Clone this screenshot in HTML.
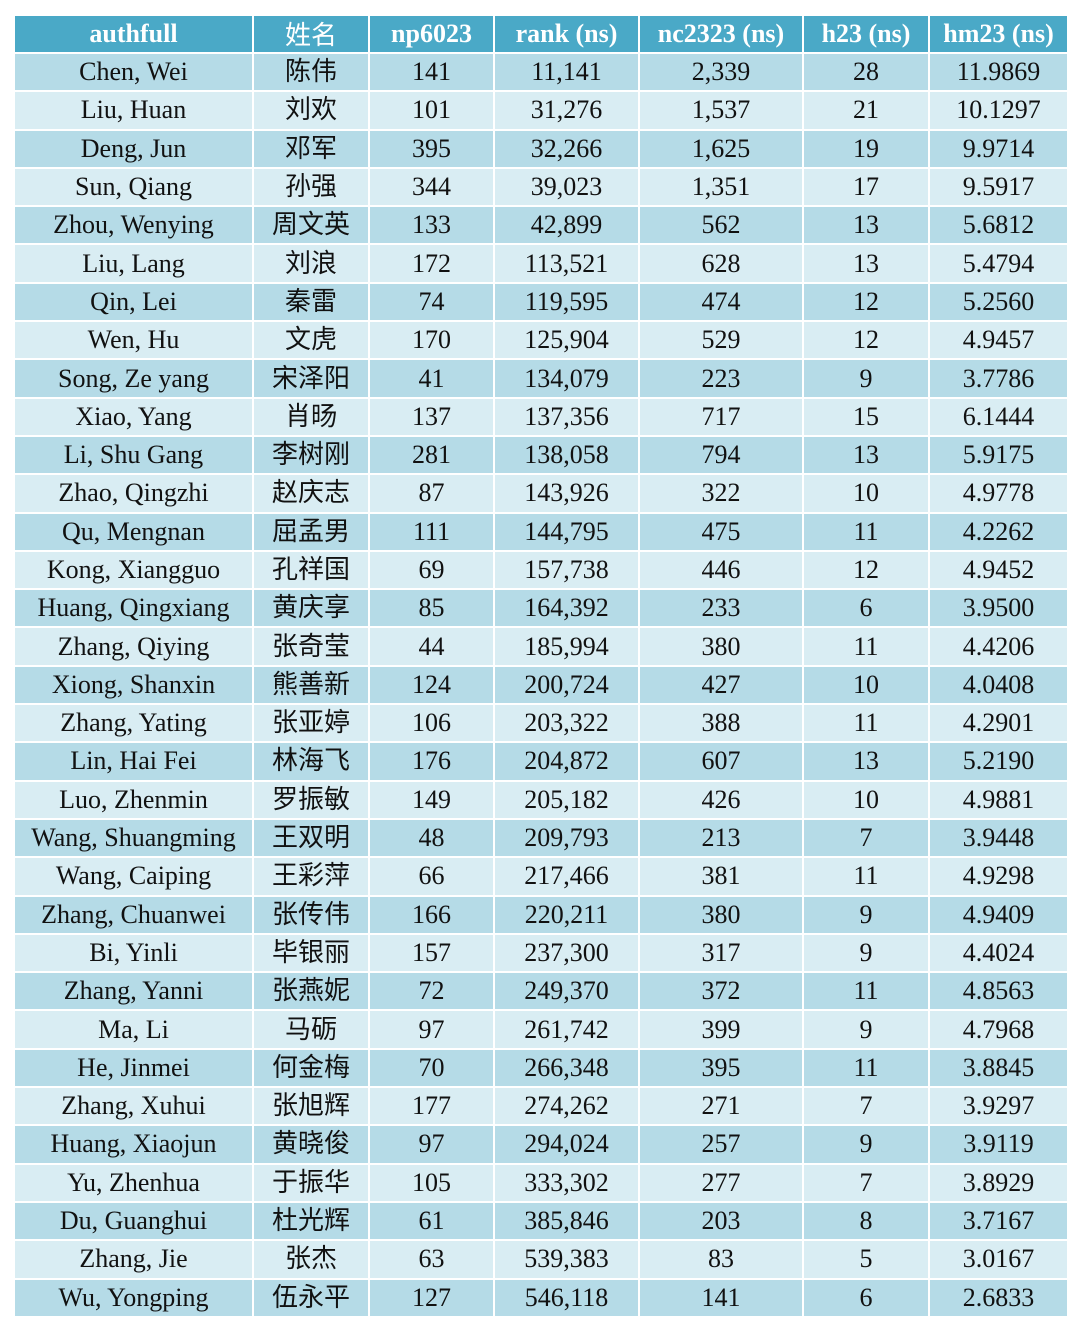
<!DOCTYPE html>
<html><head><meta charset="utf-8"><style>
html,body{margin:0;padding:0;background:#fff;width:1080px;height:1331px;overflow:hidden}
table{position:absolute;left:13px;top:14px;width:1054px;border-collapse:collapse;table-layout:fixed;font-family:"Liberation Serif","Noto Serif CJK SC",serif;font-size:26px;color:#111}
td,th{border:2px solid #fff;text-align:center;padding:0;height:36.3px;line-height:30px;white-space:nowrap;overflow:hidden}
th{background:#4aa9c7;color:#fff;font-weight:bold;height:36px;font-size:26px}
th.cn{font-weight:normal;font-family:"Noto Sans CJK SC",sans-serif}
tr:nth-child(even) td{background:#b5dbe7}
tr:nth-child(odd) td{background:#d9edf3}
td:nth-child(2){font-family:"Liberation Serif","Noto Sans CJK SC",sans-serif}
</style></head><body>
<table>
<colgroup><col style="width:239px"><col style="width:116px"><col style="width:125px"><col style="width:145px"><col style="width:164px"><col style="width:126px"><col style="width:139px"></colgroup>
<tr><th>authfull</th><th class="cn">姓名</th><th>np6023</th><th>rank (ns)</th><th>nc2323 (ns)</th><th>h23 (ns)</th><th>hm23 (ns)</th></tr>
<tr><td>Chen, Wei</td><td>陈伟</td><td>141</td><td>11,141</td><td>2,339</td><td>28</td><td>11.9869</td></tr>
<tr><td>Liu, Huan</td><td>刘欢</td><td>101</td><td>31,276</td><td>1,537</td><td>21</td><td>10.1297</td></tr>
<tr><td>Deng, Jun</td><td>邓军</td><td>395</td><td>32,266</td><td>1,625</td><td>19</td><td>9.9714</td></tr>
<tr><td>Sun, Qiang</td><td>孙强</td><td>344</td><td>39,023</td><td>1,351</td><td>17</td><td>9.5917</td></tr>
<tr><td>Zhou, Wenying</td><td>周文英</td><td>133</td><td>42,899</td><td>562</td><td>13</td><td>5.6812</td></tr>
<tr><td>Liu, Lang</td><td>刘浪</td><td>172</td><td>113,521</td><td>628</td><td>13</td><td>5.4794</td></tr>
<tr><td>Qin, Lei</td><td>秦雷</td><td>74</td><td>119,595</td><td>474</td><td>12</td><td>5.2560</td></tr>
<tr><td>Wen, Hu</td><td>文虎</td><td>170</td><td>125,904</td><td>529</td><td>12</td><td>4.9457</td></tr>
<tr><td>Song, Ze yang</td><td>宋泽阳</td><td>41</td><td>134,079</td><td>223</td><td>9</td><td>3.7786</td></tr>
<tr><td>Xiao, Yang</td><td>肖旸</td><td>137</td><td>137,356</td><td>717</td><td>15</td><td>6.1444</td></tr>
<tr><td>Li, Shu Gang</td><td>李树刚</td><td>281</td><td>138,058</td><td>794</td><td>13</td><td>5.9175</td></tr>
<tr><td>Zhao, Qingzhi</td><td>赵庆志</td><td>87</td><td>143,926</td><td>322</td><td>10</td><td>4.9778</td></tr>
<tr><td>Qu, Mengnan</td><td>屈孟男</td><td>111</td><td>144,795</td><td>475</td><td>11</td><td>4.2262</td></tr>
<tr><td>Kong, Xiangguo</td><td>孔祥国</td><td>69</td><td>157,738</td><td>446</td><td>12</td><td>4.9452</td></tr>
<tr><td>Huang, Qingxiang</td><td>黄庆享</td><td>85</td><td>164,392</td><td>233</td><td>6</td><td>3.9500</td></tr>
<tr><td>Zhang, Qiying</td><td>张奇莹</td><td>44</td><td>185,994</td><td>380</td><td>11</td><td>4.4206</td></tr>
<tr><td>Xiong, Shanxin</td><td>熊善新</td><td>124</td><td>200,724</td><td>427</td><td>10</td><td>4.0408</td></tr>
<tr><td>Zhang, Yating</td><td>张亚婷</td><td>106</td><td>203,322</td><td>388</td><td>11</td><td>4.2901</td></tr>
<tr><td>Lin, Hai Fei</td><td>林海飞</td><td>176</td><td>204,872</td><td>607</td><td>13</td><td>5.2190</td></tr>
<tr><td>Luo, Zhenmin</td><td>罗振敏</td><td>149</td><td>205,182</td><td>426</td><td>10</td><td>4.9881</td></tr>
<tr><td>Wang, Shuangming</td><td>王双明</td><td>48</td><td>209,793</td><td>213</td><td>7</td><td>3.9448</td></tr>
<tr><td>Wang, Caiping</td><td>王彩萍</td><td>66</td><td>217,466</td><td>381</td><td>11</td><td>4.9298</td></tr>
<tr><td>Zhang, Chuanwei</td><td>张传伟</td><td>166</td><td>220,211</td><td>380</td><td>9</td><td>4.9409</td></tr>
<tr><td>Bi, Yinli</td><td>毕银丽</td><td>157</td><td>237,300</td><td>317</td><td>9</td><td>4.4024</td></tr>
<tr><td>Zhang, Yanni</td><td>张燕妮</td><td>72</td><td>249,370</td><td>372</td><td>11</td><td>4.8563</td></tr>
<tr><td>Ma, Li</td><td>马砺</td><td>97</td><td>261,742</td><td>399</td><td>9</td><td>4.7968</td></tr>
<tr><td>He, Jinmei</td><td>何金梅</td><td>70</td><td>266,348</td><td>395</td><td>11</td><td>3.8845</td></tr>
<tr><td>Zhang, Xuhui</td><td>张旭辉</td><td>177</td><td>274,262</td><td>271</td><td>7</td><td>3.9297</td></tr>
<tr><td>Huang, Xiaojun</td><td>黄晓俊</td><td>97</td><td>294,024</td><td>257</td><td>9</td><td>3.9119</td></tr>
<tr><td>Yu, Zhenhua</td><td>于振华</td><td>105</td><td>333,302</td><td>277</td><td>7</td><td>3.8929</td></tr>
<tr><td>Du, Guanghui</td><td>杜光辉</td><td>61</td><td>385,846</td><td>203</td><td>8</td><td>3.7167</td></tr>
<tr><td>Zhang, Jie</td><td>张杰</td><td>63</td><td>539,383</td><td>83</td><td>5</td><td>3.0167</td></tr>
<tr><td>Wu, Yongping</td><td>伍永平</td><td>127</td><td>546,118</td><td>141</td><td>6</td><td>2.6833</td></tr>
</table>
</body></html>
